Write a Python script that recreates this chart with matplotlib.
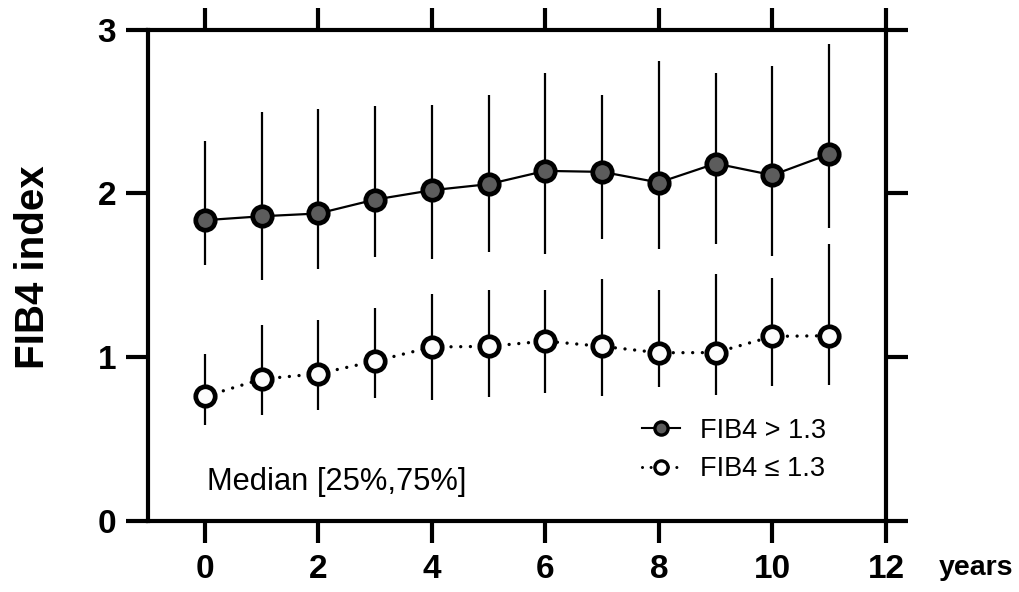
import numpy as np
import matplotlib
matplotlib.use("Agg")
import matplotlib.pyplot as plt
from matplotlib.lines import Line2D

plt.rcParams['font.family'] = ['Liberation Sans', 'DejaVu Sans']

years = [0, 1, 2, 3, 4, 5, 6, 7, 8, 9, 10, 11]
high_median = [1.836, 1.860, 1.877, 1.962, 2.019, 2.056, 2.137, 2.131, 2.066, 2.182, 2.111, 2.239]
high_q1 = [1.561, 1.469, 1.540, 1.611, 1.600, 1.642, 1.628, 1.720, 1.663, 1.689, 1.618, 1.791]
high_q3 = [2.320, 2.494, 2.514, 2.532, 2.540, 2.603, 2.734, 2.603, 2.807, 2.734, 2.777, 2.909]
low_median = [0.760, 0.866, 0.899, 0.976, 1.062, 1.066, 1.098, 1.066, 1.027, 1.028, 1.127, 1.131]
low_q1 = [0.589, 0.644, 0.677, 0.752, 0.741, 0.756, 0.784, 0.765, 0.815, 0.767, 0.824, 0.832]
low_q3 = [1.017, 1.194, 1.229, 1.300, 1.384, 1.412, 1.408, 1.479, 1.412, 1.506, 1.485, 1.693]

x_ticks = [0, 2, 4, 6, 8, 10, 12]
y_ticks = [0, 1, 2, 3]
label_high = "FIB4 > 1.3"
label_low = "FIB4 \u2264 1.3"

fig = plt.figure(figsize=(10.19, 5.92), dpi=100)
ax = fig.add_axes([148/1019, 1-521/592, (886-148)/1019, (521-29.5)/592])

x = np.array(years)
hm, hq1, hq3 = map(np.array, (high_median, high_q1, high_q3))
lm, lq1, lq3 = map(np.array, (low_median, low_q1, low_q3))

ax.errorbar(x, hm, yerr=[hm - hq1, hq3 - hm], fmt='none', ecolor='black', elinewidth=1.6, capsize=0, zorder=2)
ax.errorbar(x, lm, yerr=[lm - lq1, lq3 - lm], fmt='none', ecolor='black', elinewidth=1.6, capsize=0, zorder=2)

ax.plot(x, hm, color='black', lw=1.6, zorder=3)
ax.plot(x, lm, color='black', lw=2.4, linestyle=(0, (0.01, 2.9)), dash_capstyle='round', zorder=3)
ax.plot(x, hm, linestyle='none', marker='o', ms=14, mew=3.4, mfc='#5c5c5c', mec='black', zorder=4)
ax.plot(x, lm, linestyle='none', marker='o', ms=14, mew=3.4, mfc='#fcfcfc', mec='black', zorder=4)

ax.set_xlim(-1, 12)
ax.set_ylim(0, 3)
ax.set_xticks(x_ticks)
ax.set_yticks(y_ticks)

for s in ax.spines.values():
    s.set_linewidth(3)
ax.tick_params(axis='both', which='both', direction='out', length=16, width=3,
               top=True, right=True, labelsize=24, color='black')
ax.tick_params(axis='x', pad=8)
ax.tick_params(axis='y', pad=7)
for lbl in ax.get_xticklabels() + ax.get_yticklabels():
    lbl.set_fontweight('bold')

fig.text(33.5/1019, 1-267/592, "FIB4 index", fontsize=29, fontweight='bold',
         rotation=90, ha='center', va='center')

fig.text(1013/1019, 1-575/592, "years", fontsize=20.5, fontweight='bold', ha='right', va='baseline')
fig.text(207/1019, 1-490/592, "Median [25%,75%]", fontsize=22.2, ha='left', va='baseline')

h1 = Line2D([], [], color='black', lw=1.5, marker='o', ms=9.5, mew=2.4, mfc='#5c5c5c', mec='black')
h2 = Line2D([], [], color='black', lw=2.2, linestyle=(0, (0.01, 2.8)), dash_capstyle='round',
            marker='o', ms=9.5, mew=2.4, mfc='#fcfcfc', mec='black')
fig.legend([h1, h2], [label_high, label_low], loc='center left',
           bbox_to_anchor=(641.7/1019, 1-450/592), frameon=False, fontsize=19.5,
           handlelength=1.4, handletextpad=0.75, labelspacing=0.45, borderpad=0, borderaxespad=0)

fig.savefig("out.png", dpi=100)
